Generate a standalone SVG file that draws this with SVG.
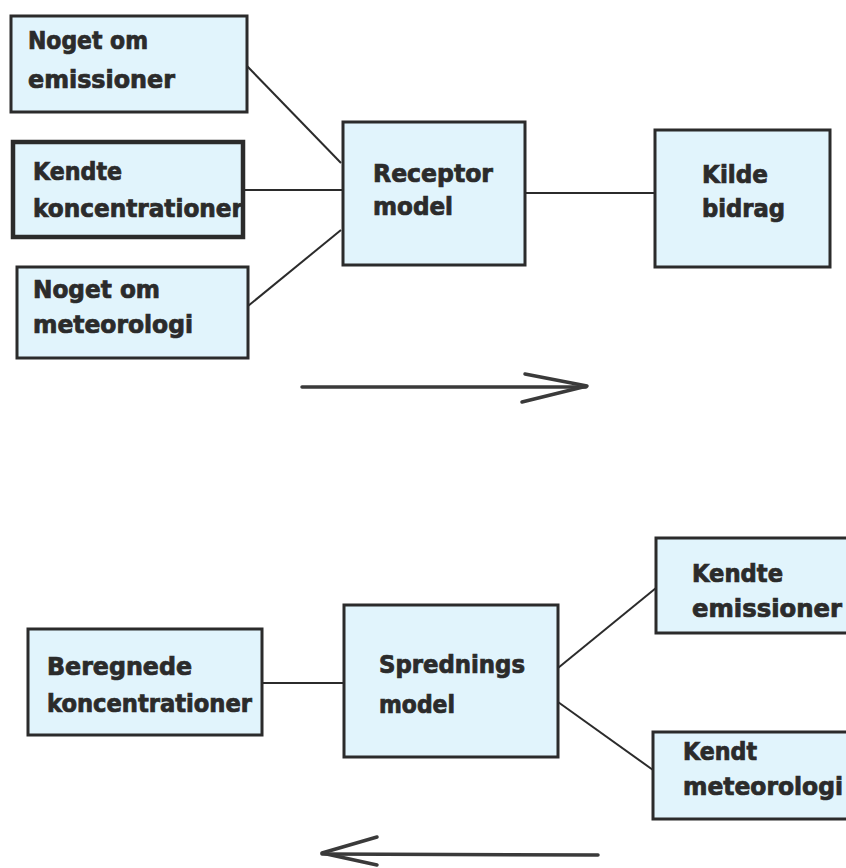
<svg xmlns="http://www.w3.org/2000/svg" width="846" height="868" viewBox="0 0 846 868">
<style>
.box{fill:#e1f4fc;stroke:#2b2b2b;stroke-width:3}
.t{font-family:"DejaVu Sans Condensed","Liberation Sans Narrow","Liberation Sans",sans-serif;font-weight:bold;font-size:24px;fill:#2b2b2b;stroke:#2b2b2b;stroke-width:0.7}
.c{stroke:#2b2b2b;stroke-width:2;fill:none}
.a{stroke:#3a3a3a;stroke-width:3.5;fill:none;stroke-linecap:round;stroke-linejoin:round}
</style>
<rect width="846" height="868" fill="#ffffff"/>
<g id="connectors">
<line class="c" x1="247" y1="66" x2="341" y2="163"/>
<line class="c" x1="243" y1="190" x2="343" y2="190"/>
<line class="c" x1="248" y1="306" x2="341" y2="230"/>
<line class="c" x1="525" y1="193" x2="655" y2="193"/>
<line class="c" x1="262" y1="683" x2="344" y2="683"/>
<line class="c" x1="558" y1="668" x2="656" y2="588"/>
<line class="c" x1="558" y1="702" x2="653" y2="770"/>
</g>
<g id="arrow-right">
<line class="a" x1="302" y1="387" x2="586" y2="387"/>
<polyline class="a" points="525,374 587,386 522,402"/>
</g>
<g id="arrow-left">
<line class="a" x1="322" y1="854" x2="598" y2="855"/>
<polyline class="a" points="377,837 322,853 377,865"/>
</g>
<g id="noget-emissioner">
<rect class="box" x="11" y="16" width="236" height="96"/>
<text class="t" x="28" y="49" textLength="120" lengthAdjust="spacingAndGlyphs">Noget om</text>
<text class="t" x="28" y="88" textLength="147" lengthAdjust="spacingAndGlyphs">emissioner</text>
</g>
<g id="kendte-koncentrationer">
<rect class="box" x="13" y="142" width="230" height="95" style="stroke-width:4.5"/>
<text class="t" x="33" y="180" textLength="89" lengthAdjust="spacingAndGlyphs">Kendte</text>
<text class="t" x="33" y="217" textLength="210" lengthAdjust="spacingAndGlyphs">koncentrationer</text>
</g>
<g id="noget-meteorologi">
<rect class="box" x="17" y="267" width="231" height="91"/>
<text class="t" x="33" y="298" textLength="127" lengthAdjust="spacingAndGlyphs">Noget om</text>
<text class="t" x="33" y="333" textLength="160" lengthAdjust="spacingAndGlyphs">meteorologi</text>
</g>
<g id="receptor-model">
<rect class="box" x="343" y="122" width="182" height="143"/>
<text class="t" x="373" y="182" textLength="120" lengthAdjust="spacingAndGlyphs">Receptor</text>
<text class="t" x="373" y="215" textLength="80" lengthAdjust="spacingAndGlyphs">model</text>
</g>
<g id="kilde-bidrag">
<rect class="box" x="655" y="130" width="175" height="137"/>
<text class="t" x="702" y="183" textLength="66" lengthAdjust="spacingAndGlyphs">Kilde</text>
<text class="t" x="702" y="217" textLength="83" lengthAdjust="spacingAndGlyphs">bidrag</text>
</g>
<g id="beregnede-koncentrationer">
<rect class="box" x="28" y="629" width="234" height="106"/>
<text class="t" x="47" y="675" textLength="145" lengthAdjust="spacingAndGlyphs">Beregnede</text>
<text class="t" x="47" y="712" textLength="205" lengthAdjust="spacingAndGlyphs">koncentrationer</text>
</g>
<g id="spredningsmodel">
<rect class="box" x="344" y="605" width="214" height="152"/>
<text class="t" x="379" y="673" textLength="146" lengthAdjust="spacingAndGlyphs">Sprednings</text>
<text class="t" x="379" y="713" textLength="76" lengthAdjust="spacingAndGlyphs">model</text>
</g>
<g id="kendte-emissioner">
<rect class="box" x="656" y="538" width="192" height="95"/>
<text class="t" x="692" y="582" textLength="91" lengthAdjust="spacingAndGlyphs">Kendte</text>
<text class="t" x="692" y="617" textLength="150" lengthAdjust="spacingAndGlyphs">emissioner</text>
</g>
<g id="kendt-meteorologi">
<rect class="box" x="653" y="732" width="195" height="87"/>
<text class="t" x="683" y="760" textLength="74" lengthAdjust="spacingAndGlyphs">Kendt</text>
<text class="t" x="683" y="795" textLength="160" lengthAdjust="spacingAndGlyphs">meteorologi</text>
</g>
</svg>
